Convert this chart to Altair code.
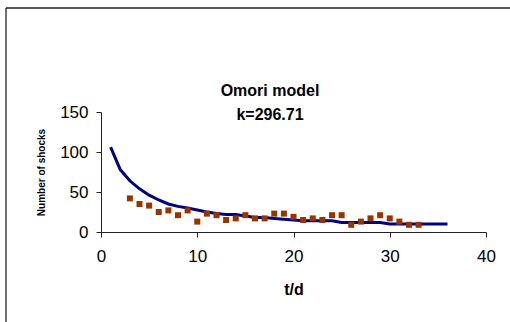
import altair as alt
import pandas as pd

# observed aftershocks per day
obs_t = list(range(3, 34))
obs_n = [42, 35, 33, 25, 27, 21, 27, 13, 23, 21, 15, 17, 21, 17, 17, 23, 23, 19,
         15, 17, 15, 21, 21, 9, 13, 17, 21, 17, 13, 9, 9]

# Omori model curve
mod_t = list(range(1, 37))
mod_n = [106, 78, 64, 54, 46, 40, 35, 32, 30, 27.5, 25, 23, 22, 22, 20, 18, 18, 17,
         16, 15, 14, 14, 14, 14, 12, 12, 12, 12, 12, 10, 10, 10, 10, 10, 10, 10]

title_lines = ["Omori model", "k=296.71"]
x_ticks = [0, 10, 20, 30, 40]
y_ticks = [0, 50, 100, 150]

obs = pd.DataFrame({"t": obs_t, "n": obs_n})
mod = pd.DataFrame({"t": mod_t, "n": mod_n})

W, H = 385, 120
FONT = "Liberation Sans"

xs = alt.Scale(domain=[0, 40], nice=False)
ys = alt.Scale(domain=[0, 150], nice=False)


def x_axis():
    return alt.Axis(values=x_ticks, title="t/d", grid=False, labelFontSize=17,
                    labelFont=FONT, labelColor="black", titleFont=FONT,
                    titleFontSize=16, titleFontWeight="bold", titleColor="black",
                    titlePadding=17, domainColor="#222", tickColor="#222",
                    tickSize=5, labelPadding=11, labelOverlap=False, labelFlush=False)


def y_axis():
    return alt.Axis(values=y_ticks, title="Number of shocks", grid=False,
                    labelFontSize=17, labelFont=FONT, labelColor="black",
                    titleFont=FONT, titleFontSize=10, titleFontWeight="bold",
                    titleColor="black", titlePadding=13, domainColor="#222",
                    tickColor="#222", tickSize=5, labelPadding=8,
                    labelOverlap=False, labelFlush=False)


line = alt.Chart(mod).mark_line(color="#000080", strokeWidth=3).encode(
    x=alt.X("t:Q", scale=xs, axis=x_axis()),
    y=alt.Y("n:Q", scale=ys, axis=y_axis()),
)
pts = alt.Chart(obs).mark_square(color="#993300", size=36, opacity=1).encode(
    x=alt.X("t:Q", scale=xs, axis=x_axis()),
    y=alt.Y("n:Q", scale=ys, axis=y_axis()),
)

tdf = pd.DataFrame({"txt": title_lines})
t1 = alt.Chart(tdf.iloc[[0]]).mark_text(font=FONT, fontSize=16, fontWeight="bold",
                                        color="black", align="center",
                                        baseline="middle").encode(
    text="txt:N", x=alt.value(169), y=alt.value(-21))
t2 = alt.Chart(tdf.iloc[[1]]).mark_text(font=FONT, fontSize=16, fontWeight="bold",
                                        color="black", align="center",
                                        baseline="middle").encode(
    text="txt:N", x=alt.value(169), y=alt.value(3))

border_l = alt.Chart(tdf.iloc[[0]]).mark_rule(color="#222", strokeWidth=1.3).encode(
    x=alt.value(-95), y=alt.value(-104), y2=alt.value(220))
border_t = alt.Chart(tdf.iloc[[0]]).mark_rule(color="#222", strokeWidth=1.3).encode(
    x=alt.value(-95), x2=alt.value(420), y=alt.value(-104))

chart = alt.layer(border_l, border_t, line, pts, t1, t2).properties(
    width=W, height=H,
    autosize=alt.AutoSizeParams(type="none"),
    padding={"left": 101, "top": 112, "right": 24, "bottom": 90},
    background="white",
).configure_view(stroke=None)

chart.save("out.html", embed_options={"renderer": "svg", "actions": False})
